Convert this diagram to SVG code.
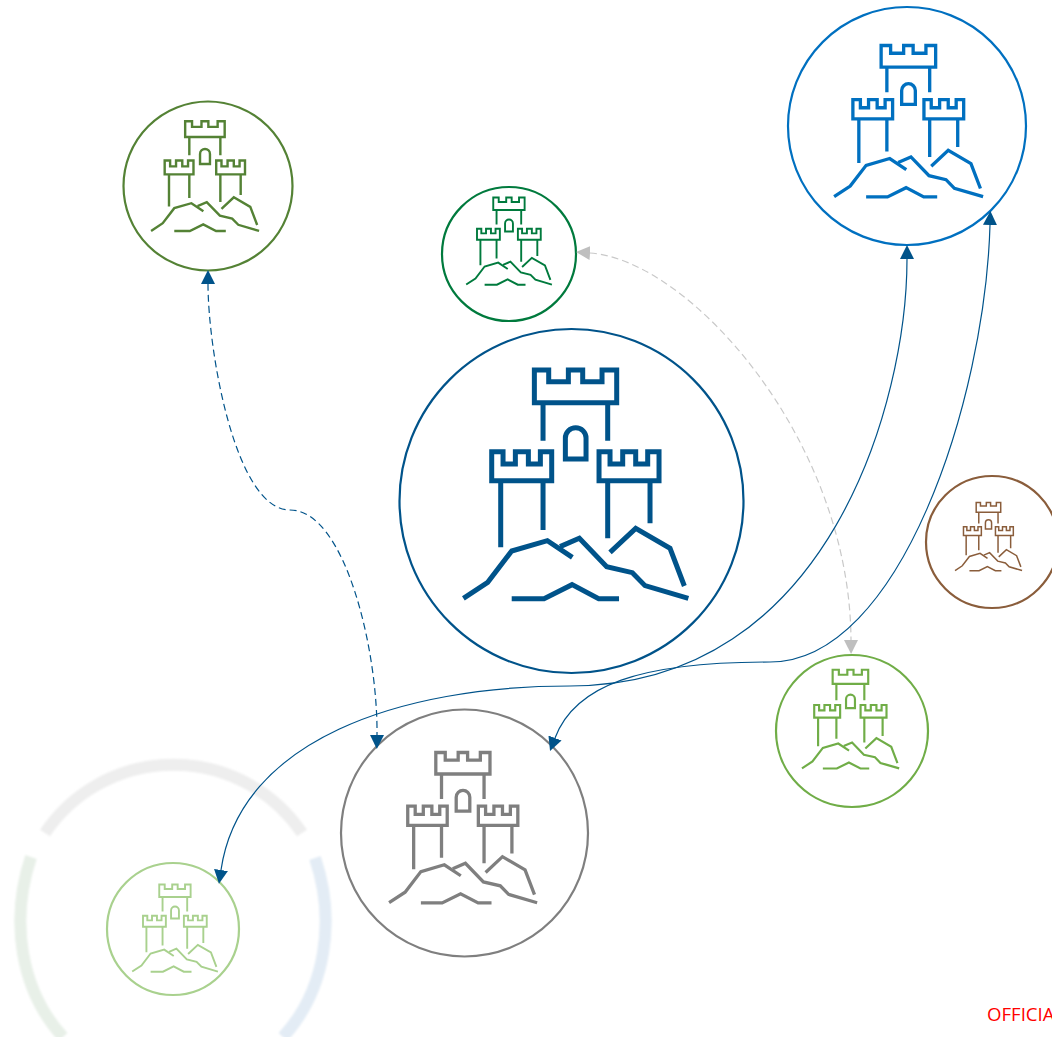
<svg xmlns="http://www.w3.org/2000/svg" width="1052" height="1037" viewBox="0 0 1052 1037">
<style>
.ring{fill:none;stroke-width:2.2}
.castle{fill:none;stroke:currentColor;stroke-width:15;stroke-linejoin:miter}
.link{fill:none;stroke:#00538a;stroke-width:1.2}
.dash{stroke-dasharray:7 4}
.grey{fill:none;stroke:#c9c9c9;stroke-width:1.2;stroke-dasharray:7 4}
.halo{fill:none;stroke-width:12}
.off{font-family:"Open Sans","Noto Sans",sans-serif;font-size:18.6px;fill:#ff0000}
</style>
<defs>
<g id="castle" class="castle">
<path d="M283,60H326V95H385V60H428V95H486V60H530V158H283Z"/>
<path d="M309,158V272M503,158V272"/>
<path d="M376,327V264A31,31 0 0 1 438,264V327Z"/>
<path d="M155,305H189V342H226V305H265V342H301V305H335V392H155Z"/>
<path d="M477,305H510V342H548V305H587V342H623V305H657V392H477Z"/>
<path d="M182,392V592M309,392V540M503,392V565M630,392V520"/>
<path d="M70,745L143,697L215,603L322,572L397,622"/>
<path d="M360,590L418,565L500,650L577,668L615,707L745,745"/>
<path d="M510,607L587,535L690,595L733,708"/>
<path d="M215,746H312L396,704L476,746H537"/>
</g>
<marker id="ab" markerUnits="userSpaceOnUse" markerWidth="14" markerHeight="14" refX="0" refY="6.5" orient="auto-start-reverse" viewBox="0 0 13 13"><path d="M0,0L13,6.5L0,13Z" fill="#00538a"/></marker>
<marker id="ag" markerUnits="userSpaceOnUse" markerWidth="14" markerHeight="14" refX="0" refY="6.5" orient="auto-start-reverse" viewBox="0 0 13 13"><path d="M0,0L13,6.5L0,13Z" fill="#bfbfbf"/></marker>
<filter id="soft" x="-10%" y="-10%" width="120%" height="120%"><feGaussianBlur stdDeviation="0.8"/></filter>
</defs>
<g id="halo" filter="url(#soft)">
<path class="halo" stroke="#eeeeee" d="M45,833A155,155 0 0 1 302,833"/>
<path class="halo" stroke="#e8f0e8" d="M31,857C10,920 20,990 63,1037"/>
<path class="halo" stroke="#e3ecf5" d="M315,858C336,920 326,990 283,1037"/>
</g>
<g id="node-main" color="#00538a"><circle class="ring" cx="571.5" cy="501" r="172" stroke="#00538a"/><use href="#castle" transform="translate(575.7,484) scale(.3333) translate(-407,-402)"/></g>
<g id="node-blue" color="#0070c0"><circle class="ring" cx="907" cy="126" r="119" stroke="#0070c0"/><use href="#castle" transform="translate(908.5,121) scale(.2207) translate(-407,-402)"/></g>
<g id="node-olive" color="#548235"><circle class="ring" cx="208" cy="186" r="84.5" stroke="#548235"/><use href="#castle" transform="translate(205,176) scale(.16) translate(-407,-402)"/></g>
<g id="node-green" color="#007a3d"><circle class="ring" cx="509" cy="254" r="67" stroke="#007a3d"/><use href="#castle" transform="translate(509,241) scale(.127) translate(-407,-402)"/></g>
<g id="node-gray" color="#7f7f7f"><circle class="ring" cx="464.5" cy="833" r="123.5" stroke="#7f7f7f"/><use href="#castle" transform="translate(463,827.5) scale(.2193) translate(-407,-402)"/></g>
<g id="node-lime" color="#70ad47"><circle class="ring" cx="852" cy="731" r="76" stroke="#70ad47"/><use href="#castle" transform="translate(850.5,719) scale(.144) translate(-407,-402)"/></g>
<g id="node-brown" color="#8a5d3b"><circle class="ring" cx="992" cy="542" r="66" stroke="#8a5d3b"/><use href="#castle" transform="translate(988.5,536.5) scale(.0993) translate(-407,-402)"/></g>
<g id="node-pale" color="#a9d18e"><circle class="ring" cx="173" cy="929" r="66" stroke="#a9d18e"/><use href="#castle" transform="translate(175,928) scale(.127) translate(-407,-402)"/></g>
<g id="connectors">
<path class="link dash" marker-start="url(#ab)" marker-end="url(#ab)" d="M208,284C208,350 235,510 290,510C345,510 378,650 377,735"/>
<path class="grey" marker-start="url(#ag)" marker-end="url(#ag)" d="M590,253C690,260 850,440 851,640"/>
<path class="link" marker-start="url(#ab)" marker-end="url(#ab)" d="M907,259C907,400 830,686 570,686C400,686 240,740 221,870"/>
<path class="link" marker-start="url(#ab)" marker-end="url(#ab)" d="M990,225C985,400 900,662 770,662C640,662 575,685 555,738"/>
</g>
<text class="off" x="987" y="1020.5">OFFICIAL</text>
</svg>
